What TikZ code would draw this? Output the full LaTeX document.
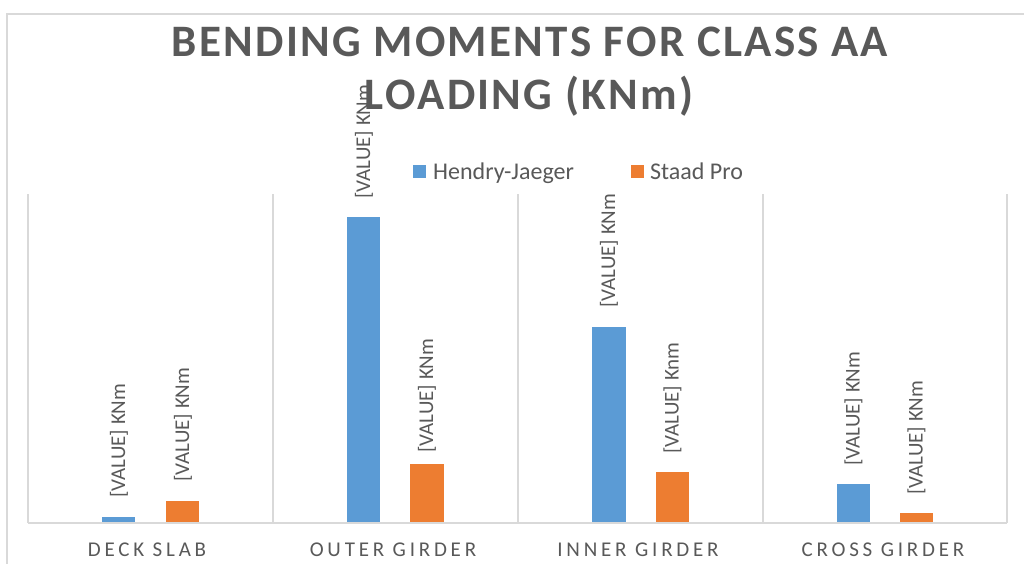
\documentclass[tikz,border=0pt]{standalone}
\usepackage{fontspec}
\setmainfont{Carlito}
\newfontfamily\titlefont[LetterSpace=5.1]{Carlito}
\newfontfamily\axisfont[LetterSpace=18]{Carlito}
\definecolor{hjblue}{HTML}{5B9BD5}
\definecolor{sporange}{HTML}{ED7D31}
\definecolor{gridc}{HTML}{D9D9D9}
\definecolor{txt}{HTML}{595959}
\begin{document}
\begin{tikzpicture}[x=1pt,y=-1pt,
  grid/.style={draw=gridc,line width=1.3pt},
  bluebar/.style={fill=hjblue,draw=none},
  orangebar/.style={fill=sporange,draw=none},
  vlabel/.style={rotate=90,anchor=west,inner sep=0pt,text=txt,font=\fontsize{21}{21}\selectfont},
  catlabel/.style={anchor=base,inner sep=0pt,text=txt,font=\axisfont\fontsize{21}{21}\selectfont},
  titlestyle/.style={anchor=base,inner sep=0pt,text=txt,font=\titlefont\bfseries\fontsize{45}{45}\selectfont},
  legtext/.style={anchor=base west,inner sep=0pt,text=txt,font=\fontsize{24}{24}\selectfont}]
\useasboundingbox (0,0) rectangle (1024,564);
\fill[white] (0,0) rectangle (1024,564);
% chart border
\draw[grid] (7,600) -- (7,14) -- (1030,14);
% plot grid
\draw[grid] (28,194) -- (28,523);
\draw[grid] (273,194) -- (273,523);
\draw[grid] (518,194) -- (518,523);
\draw[grid] (763,194) -- (763,523);
\draw[grid] (1007,194) -- (1007,523);
\draw[grid] (28,523) -- (1007,523);
% title
\node[titlestyle] (t1) at (530,57) {BENDING MOMENTS FOR CLASS AA};
\node[titlestyle] (t2) at (529,110) {LOADING (KNm)};
% legend
\fill[hjblue] (413,165) rectangle (426,178);
\node[legtext] (l1) at (433,179) {Hendry-Jaeger};
\fill[sporange] (631,165) rectangle (644,178);
\node[legtext] (l2) at (650,179) {Staad Pro};
% bars
\fill[bluebar] (102,517) rectangle (135,522);
\fill[orangebar] (166,501) rectangle (199,522);
\fill[bluebar] (347,217) rectangle (380,522);
\fill[orangebar] (410,464) rectangle (444,522);
\fill[bluebar] (592,327) rectangle (626,522);
\fill[orangebar] (656,472) rectangle (689,522);
\fill[bluebar] (837,484) rectangle (870,522);
\fill[orangebar] (900,513) rectangle (933,522);
% data labels
\node[vlabel] (d1) at (119,498) {[VALUE] KNm};
\node[vlabel] (d2) at (183,482) {[VALUE] KNm};
\node[vlabel] (d3) at (364,199) {[VALUE] KNm};
\node[vlabel] (d4) at (427,453) {[VALUE] KNm};
\node[vlabel] (d5) at (609,308) {[VALUE] KNm};
\node[vlabel] (d6) at (672.5,454) {[VALUE] Knm};
\node[vlabel] (d7) at (853.5,466) {[VALUE] KNm};
\node[vlabel] (d8) at (916.5,495) {[VALUE] KNm};
% category labels
\node[catlabel] (c1) at (147,556) {DECK SLAB};
\node[catlabel] (c2) at (393,556) {OUTER GIRDER};
\node[catlabel] (c3) at (638,556) {INNER GIRDER};
\node[catlabel] (c4) at (883,556) {CROSS GIRDER};
\end{tikzpicture}
\end{document}
